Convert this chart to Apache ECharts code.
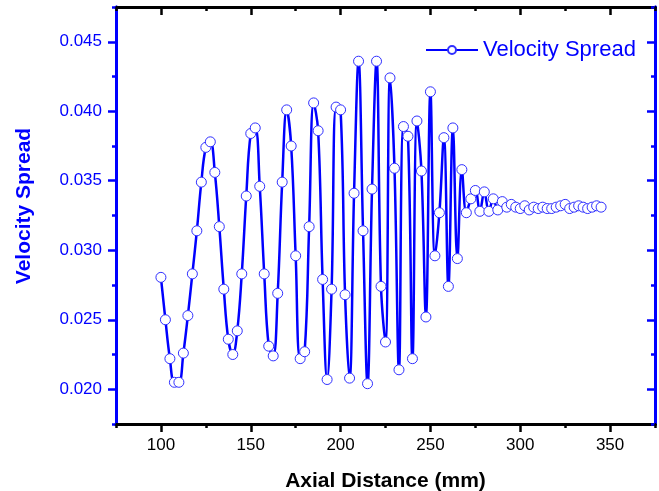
<!DOCTYPE html>
<html>
<head>
<meta charset="utf-8">
<script src="https://cdn.jsdelivr.net/npm/echarts@6/dist/echarts.min.js"></script>
<style>
  html, body { margin: 0; padding: 0; background: #ffffff; }
  #chart { width: 659px; height: 491px; }
</style>
</head>
<body>
<div id="chart"></div>
<script>
// ---- data ----
const axialDistance = [
  100, 102.5, 105, 107.5, 110, 112.5, 115, 117.5, 120, 122.5,
  125, 127.5, 130, 132.5, 135, 137.5, 140, 142.5, 145, 147.5,
  150, 152.5, 155, 157.5, 160, 162.5, 165, 167.5, 170, 172.5,
  175, 177.5, 180, 182.5, 185, 187.5, 190, 192.5, 195, 197.5,
  200, 202.5, 205, 207.5, 210, 212.5, 215, 217.5, 220, 222.5,
  225, 227.5, 230, 232.5, 235, 237.5, 240, 242.5, 245, 247.5,
  250, 252.5, 255, 257.5, 260, 262.5, 265, 267.5, 270, 272.5,
  275, 277.5, 280, 282.5, 285, 287.5, 290, 292.5, 295, 297.5,
  300, 302.5, 305, 307.5, 310, 312.5, 315, 317.5, 320, 322.5,
  325, 327.5, 330, 332.5, 335, 337.5, 340, 342.5, 345
];
const velocitySpread = [
  0.02805, 0.0250, 0.0222, 0.0205, 0.0205, 0.0226, 0.0253, 0.0283, 0.0314, 0.0349,
  0.0374, 0.0378, 0.0356, 0.0317, 0.0272, 0.0236, 0.0225, 0.0242, 0.0283, 0.0339,
  0.0384, 0.0388, 0.0346, 0.0283, 0.0231, 0.0224, 0.0269, 0.0349, 0.0401, 0.0375,
  0.0296, 0.0222, 0.0227, 0.0317, 0.0406, 0.0386, 0.0279, 0.0207, 0.0272, 0.0403,
  0.0401, 0.0268, 0.0208, 0.0341, 0.0436, 0.0314, 0.0204, 0.0344, 0.0436, 0.0274,
  0.0234, 0.0424, 0.0359, 0.0214, 0.0389, 0.0382, 0.0222, 0.0393, 0.0357, 0.0252,
  0.0414, 0.0296, 0.0327, 0.0381, 0.0274, 0.0388, 0.0294, 0.0358, 0.0327, 0.0337,
  0.0343, 0.0328, 0.0342, 0.0328, 0.0337, 0.0329, 0.0335, 0.0331, 0.0333, 0.0331,
  0.0330, 0.0332, 0.0329, 0.0331, 0.0330, 0.0331, 0.0330, 0.0330, 0.0331, 0.0332,
  0.0333, 0.0330, 0.0331, 0.0332, 0.0331, 0.0330, 0.0331, 0.0332, 0.0331
];
const seriesName = 'Velocity Spread';
const xTitle = 'Axial Distance (mm)';
const yTitle = 'Velocity Spread';
const xMajorTicks = [100, 150, 200, 250, 300, 350];
const xMinorTicks = [75, 125, 175, 225, 275, 325, 375];
const yMajorTicks = [0.020, 0.025, 0.030, 0.035, 0.040, 0.045];
const yMinorTicks = [0.0175, 0.0225, 0.0275, 0.0325, 0.0375, 0.0425, 0.0475];
const xRange = [75, 375];
const yRange = [0.0175, 0.0475];

// ---- chart ----
const BLUE = '#0000ff';
const BLACK = '#000000';
const FONT = 'Liberation Sans, Arial, sans-serif';

function xAx(opts) {
  return Object.assign({
    type: 'value', min: xRange[0], max: xRange[1], position: 'bottom',
    splitLine: { show: false },
    axisLine: { show: true, onZero: false, lineStyle: { color: BLACK, width: 3 } },
    axisLabel: { show: false },
    axisTick: { show: false }
  }, opts);
}
function yAx(opts) {
  return Object.assign({
    type: 'value', min: yRange[0], max: yRange[1], position: 'left',
    splitLine: { show: false },
    axisLine: { show: true, onZero: false, lineStyle: { color: BLUE, width: 3 } },
    axisLabel: { show: false },
    axisTick: { show: false }
  }, opts);
}

const pairs = axialDistance.map((x, i) => [x, velocitySpread[i]]);

const chart = echarts.init(document.getElementById('chart'), null, { renderer: 'canvas' });
chart.setOption({
  animation: false,
  backgroundColor: '#ffffff',
  grid: { left: 116, right: 4, top: 7, bottom: 67, containLabel: false, outerBoundsMode: 'none' },
  xAxis: [
    xAx({
      name: xTitle, nameLocation: 'middle', nameGap: 47,
      nameTextStyle: { color: BLACK, fontSize: 21, fontWeight: 'bold', fontFamily: FONT },
      axisTick: { show: true, inside: false, length: 8, customValues: xMajorTicks,
                  lineStyle: { color: BLACK, width: 2.5 } },
      axisLabel: { show: true, customValues: xMajorTicks, margin: 13,
                   color: BLACK, fontSize: 17, fontFamily: FONT }
    }),
    xAx({
      axisTick: { show: true, inside: false, length: 4, customValues: xMinorTicks,
                  lineStyle: { color: BLACK, width: 2.5 } }
    }),
    xAx({
      position: 'top',
      axisTick: { show: true, inside: true, length: 8, customValues: xMajorTicks,
                  lineStyle: { color: BLACK, width: 2.5 } }
    }),
    xAx({
      position: 'top',
      axisTick: { show: true, inside: true, length: 4, customValues: xMinorTicks,
                  lineStyle: { color: BLACK, width: 2.5 } }
    })
  ],
  yAxis: [
    yAx({
      axisTick: { show: true, inside: false, length: 8, customValues: yMajorTicks,
                  lineStyle: { color: BLUE, width: 2.5 } },
      axisLabel: { show: true, customValues: yMajorTicks, margin: 14,
                   color: BLUE, fontSize: 17, fontFamily: FONT,
                   formatter: v => v.toFixed(3) }
    }),
    yAx({
      axisTick: { show: true, inside: false, length: 4, customValues: yMinorTicks,
                  lineStyle: { color: BLUE, width: 2.5 } }
    }),
    yAx({
      position: 'right',
      axisTick: { show: true, inside: true, length: 8, customValues: yMajorTicks,
                  lineStyle: { color: BLUE, width: 2.5 } }
    }),
    yAx({
      position: 'right',
      axisTick: { show: true, inside: true, length: 4, customValues: yMinorTicks,
                  lineStyle: { color: BLUE, width: 2.5 } }
    })
  ],
  legend: {
    show: true,
    left: 420, top: 34,
    itemWidth: 52, itemHeight: 10, itemGap: 5,
    textStyle: { color: BLUE, fontSize: 22, fontFamily: FONT, padding: [0, 0, 0, 0] },
    data: [seriesName]
  },
  graphic: [{
    type: 'text',
    x: 24, y: 206,
    rotation: Math.PI / 2,
    style: {
      text: yTitle, fill: BLUE,
      font: 'bold 21px Liberation Sans, Arial, sans-serif',
      textAlign: 'center', textVerticalAlign: 'middle'
    }
  }],
  series: [{
    name: seriesName,
    type: 'line',
    xAxisIndex: 0, yAxisIndex: 0,
    data: pairs,
    smooth: 0.4,
    symbol: 'circle',
    symbolSize: 10,
    showAllSymbol: true,
    lineStyle: { color: BLUE, width: 2.5 },
    itemStyle: { color: '#ffffff', borderColor: '#3030ff', borderWidth: 1 },
    emphasis: { disabled: true },
    z: 3
  }]
});
</script>
</body>
</html>
